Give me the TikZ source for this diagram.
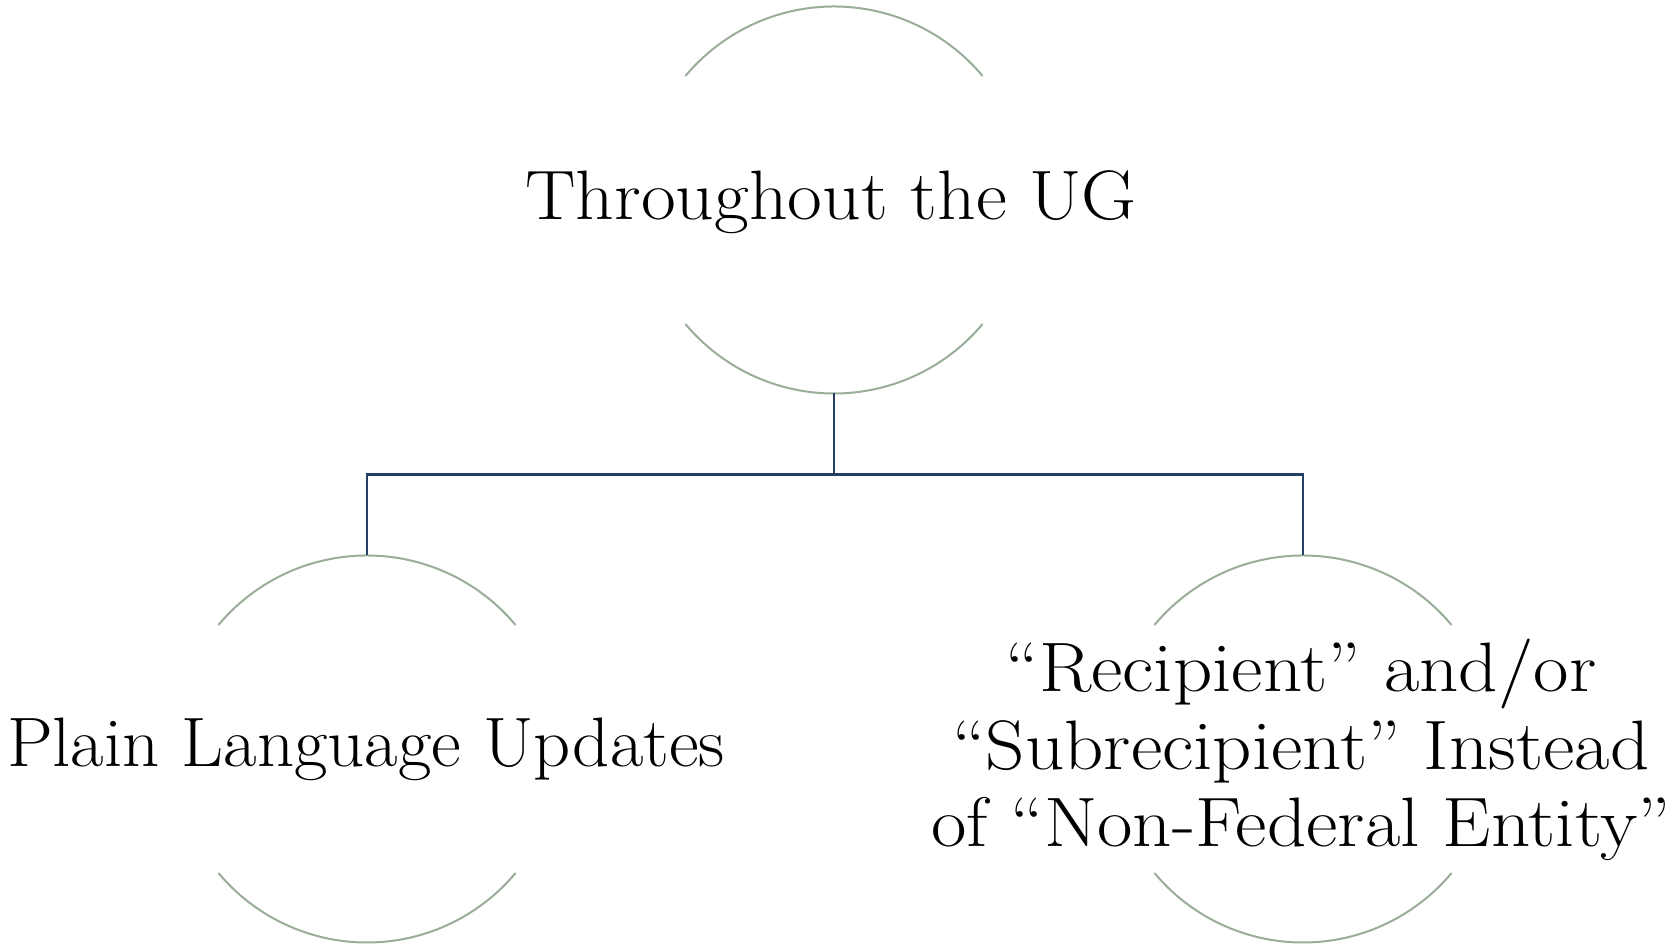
\documentclass[tikz,border=0pt]{standalone}
\usepackage{fontspec}
\usepackage{graphicx}
\setmainfont{Latin Modern Roman}
\definecolor{arcgreen}{HTML}{9AAD98}
\definecolor{linknavy}{HTML}{243F66}
\tikzset{
  x=1pt, y=1pt,
  ring/.style={circle, minimum size=387pt, inner sep=0pt, outer sep=0pt},
  rim/.style={draw=arcgreen, line width=2pt, line cap=round},
  link/.style={draw=linknavy, line width=2.4pt},
  label/.style={font=\fontsize{70}{77.5}\selectfont, text=black, inner sep=0pt}
}
\begin{document}
\begin{tikzpicture}
  \useasboundingbox (0,0) rectangle (1674,947);
  % circles: only upper and lower arcs are stroked
  \node[ring] (top)   at (834,747) {};
  \node[ring] (left)  at (367,198) {};
  \node[ring] (right) at (1303,198) {};
  \foreach \c in {top,left,right}{
    \draw[rim] (\c.40) arc[start angle=40, end angle=140, radius=193.5pt];
    \draw[rim] (\c.220) arc[start angle=220, end angle=320, radius=193.5pt];
  }
  % captions
  \node[label, anchor=base] (toptxt) at (831,727)
    {\scalebox{1.08}[1]{Throughout the UG}};
  \node[label, anchor=base] (lefttxt) at (366,180)
    {\scalebox{1.04}[1]{Plain Language Updates}};
  \node[label, anchor=base] (righttxt) at (1301,100)
    {\scalebox{1.1}[1]{\begin{tabular}[b]{@{}c@{}}“Recipient” and/or\\“Subrecipient” Instead\\of “Non-Federal Entity”\end{tabular}}};
  % tree connectors
  \coordinate (hub) at ([yshift=-81pt]top.south);
  \draw[link] (top.south) -- (hub);
  \draw[link] (hub) -| (left.north);
  \draw[link] (hub) -| (right.north);
\end{tikzpicture}
\end{document}
